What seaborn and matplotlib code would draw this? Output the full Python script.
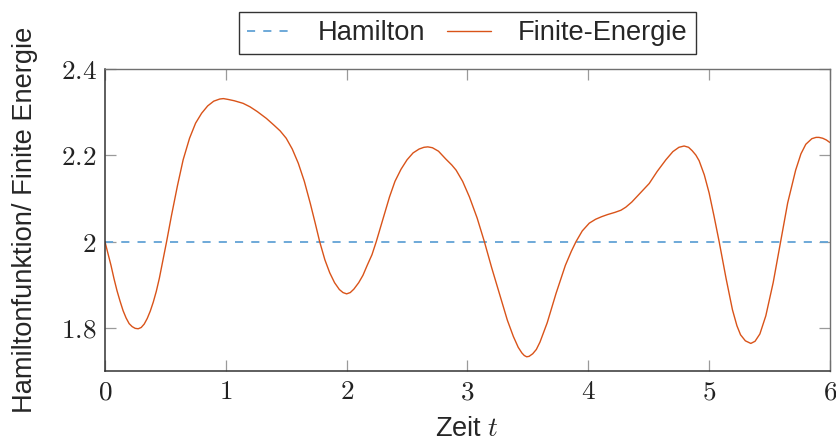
import numpy as np
import pandas as pd
import matplotlib
matplotlib.use("Agg")
import matplotlib.pyplot as plt
from matplotlib.ticker import FuncFormatter
import seaborn as sns

# ---- data ----
zeit = [0.00, 0.025, 0.05, 0.075, 0.10, 0.125, 0.15, 0.175, 0.20, 0.225, 0.25,
        0.275, 0.30, 0.325, 0.35, 0.375, 0.40, 0.425, 0.45, 0.475, 0.51, 0.55,
        0.60, 0.647, 0.70, 0.75, 0.80, 0.85, 0.90, 0.95, 0.98, 1.02, 1.07,
        1.143, 1.20, 1.26, 1.336, 1.40, 1.45, 1.50, 1.55, 1.60, 1.65, 1.70,
        1.74, 1.777, 1.82, 1.86, 1.90, 1.94, 1.97, 2.00, 2.03, 2.06, 2.10,
        2.135, 2.17, 2.21, 2.245, 2.30, 2.355, 2.40, 2.45, 2.50, 2.55, 2.60,
        2.64, 2.672, 2.71, 2.76, 2.82, 2.87, 2.906, 2.96, 3.016, 3.08, 3.14,
        3.20, 3.264, 3.33, 3.38, 3.42, 3.45, 3.47, 3.49, 3.51, 3.54, 3.57,
        3.60, 3.66, 3.733, 3.81, 3.86, 3.898, 3.95, 4.008, 4.06, 4.11, 4.16,
        4.22, 4.27, 4.31, 4.36, 4.40, 4.45, 4.504, 4.57, 4.642, 4.70, 4.75,
        4.793, 4.83, 4.86, 4.89, 4.917, 4.96, 5.00, 5.04, 5.083, 5.14, 5.193,
        5.23, 5.26, 5.30, 5.345, 5.38, 5.42, 5.469, 5.53, 5.592, 5.65, 5.716,
        5.76, 5.80, 5.85, 5.885, 5.909, 5.94, 5.97, 6.00]
finite_energie = [2.000, 1.972, 1.945, 1.914, 1.886, 1.862, 1.840, 1.823, 1.810,
                  1.803, 1.799, 1.798, 1.801, 1.809, 1.822, 1.839, 1.860, 1.885,
                  1.915, 1.950, 2.000, 2.060, 2.130, 2.190, 2.240, 2.275, 2.298,
                  2.315, 2.326, 2.331, 2.332, 2.330, 2.327, 2.321, 2.313, 2.302,
                  2.286, 2.270, 2.257, 2.240, 2.215, 2.182, 2.140, 2.088, 2.043,
                  2.000, 1.958, 1.928, 1.905, 1.889, 1.882, 1.879, 1.882, 1.890,
                  1.905, 1.922, 1.945, 1.970, 2.000, 2.052, 2.104, 2.140, 2.168,
                  2.190, 2.206, 2.215, 2.219, 2.220, 2.218, 2.210, 2.192, 2.178,
                  2.166, 2.140, 2.104, 2.055, 2.000, 1.940, 1.880, 1.818, 1.780,
                  1.755, 1.742, 1.736, 1.733, 1.734, 1.740, 1.750, 1.767, 1.812,
                  1.880, 1.945, 1.978, 2.000, 2.025, 2.043, 2.052, 2.058, 2.063,
                  2.068, 2.073, 2.080, 2.092, 2.104, 2.119, 2.135, 2.163, 2.190,
                  2.209, 2.219, 2.222, 2.219, 2.211, 2.201, 2.188, 2.155, 2.113,
                  2.060, 2.000, 1.915, 1.842, 1.805, 1.784, 1.770, 1.764, 1.769,
                  1.786, 1.828, 1.905, 2.000, 2.090, 2.166, 2.204, 2.226, 2.239,
                  2.242, 2.242, 2.240, 2.236, 2.230]
hamilton_t = [0.0, 6.0]
hamilton = [2.0, 2.0]

x_ticks = [0, 1, 2, 3, 4, 5, 6]
y_ticks = [1.8, 2.0, 2.2, 2.4]

FS = 19.6

sns.set_theme(style="white")
plt.rcParams["font.family"] = ["Liberation Sans", "DejaVu Sans"]
plt.rcParams["mathtext.fontset"] = "cm"

fig = plt.figure(figsize=(8.37, 4.41), dpi=100)
ax = fig.add_axes([0.1254, 0.1587, 0.8662, 0.6842])

df_h = pd.DataFrame({"t": hamilton_t, "v": hamilton})
df_f = pd.DataFrame({"t": zeit, "v": finite_energie})

sns.lineplot(data=df_h, x="t", y="v", ax=ax, color="#62a3d6", lw=1.3,
             linestyle=(0, (4.5, 4.5)), label="Hamilton", estimator=None, sort=False)
sns.lineplot(data=df_f, x="t", y="v", ax=ax, color="#d95319", lw=1.0,
             label="Finite-Energie", estimator=None, sort=False)

ax.set_xlim(0, 6)
ax.set_ylim(1.7, 2.4)
ax.set_xticks(x_ticks)
ax.set_yticks(y_ticks)
fmt = FuncFormatter(lambda v, p: f"${v:g}$")
ax.xaxis.set_major_formatter(fmt)
ax.yaxis.set_major_formatter(fmt)
ax.tick_params(axis="both", which="major", direction="in", length=8, width=0.9,
               color="#9a9a9a", labelsize=FS, top=True, right=True,
               bottom=True, left=True, pad=6, labelcolor="#222222")

for side in ["left", "bottom"]:
    ax.spines[side].set_color("#333333")
    ax.spines[side].set_linewidth(1.1)
for side in ["top", "right"]:
    ax.spines[side].set_color("#707070")
    ax.spines[side].set_linewidth(1.0)

ax.set_xlabel("Zeit $t$", fontsize=FS, labelpad=8)
ax.set_ylabel("Hamiltonfunktion/ Finite Energie", fontsize=FS)
ax.yaxis.set_label_coords(-0.092, 0.5)

leg = ax.legend(loc="lower center", bbox_to_anchor=(0.5, 1.05), ncol=2,
                frameon=True, fancybox=False, fontsize=FS, borderaxespad=0,
                handlelength=1.6, handletextpad=1.0, columnspacing=0.8,
                borderpad=0.3)
leg.get_frame().set_edgecolor("black")
leg.get_frame().set_linewidth(1.0)

fig.savefig("out.png", dpi=100)
